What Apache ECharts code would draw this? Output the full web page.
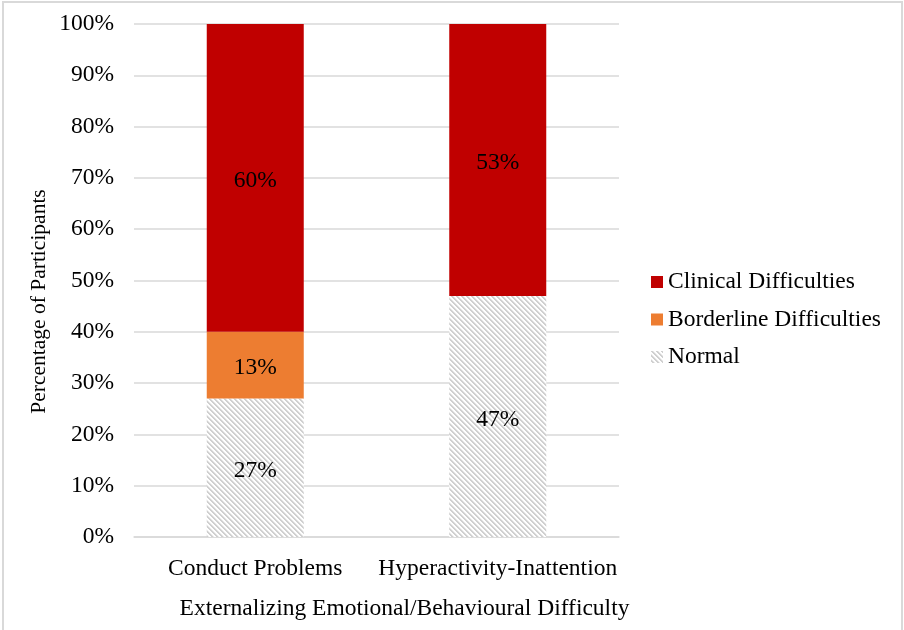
<!DOCTYPE html>
<html>
<head>
<meta charset="utf-8">
<script src="https://cdn.jsdelivr.net/npm/echarts@6/dist/echarts.min.js"></script>
<style>
  html, body { margin: 0; padding: 0; background: #fff; }
  #chart { width: 904px; height: 630px; }
</style>
</head>
<body>
<div id="chart"></div>
<script>
// Categories and stacked percentages
const categories = ['Conduct Problems', 'Hyperactivity-Inattention'];
const normalValues = [27, 47];
const borderlineValues = [13, 0];
const clinicalValues = [60, 53];
const yTicks = [0, 10, 20, 30, 40, 50, 60, 70, 80, 90, 100];

const FONT = '"Liberation Serif", "Times New Roman", serif';
const FS = 23.5;

// Diagonal hatch fill used for the "Normal" segment
function makeHatch() {
  const s = 5;
  const c = document.createElement('canvas');
  c.width = s; c.height = s;
  const ctx = c.getContext('2d');
  ctx.fillStyle = '#ffffff';
  ctx.fillRect(0, 0, s, s);
  for (let y = 0; y < s; y++) {
    for (let x = 0; x < s; x++) {
      const d = ((x - y) % s + s) % s;
      if (d < 2) { ctx.fillStyle = '#d0d0d0'; ctx.fillRect(x, y, 1, 1); }
      else if (d === 2) { ctx.fillStyle = '#ebebeb'; ctx.fillRect(x, y, 1, 1); }
    }
  }
  return { image: c, repeat: 'repeat' };
}
const hatch = makeHatch();

const labelStyle = {
  show: true,
  position: 'inside',
  offset: [0, 3],
  color: '#000',
  fontFamily: FONT,
  fontSize: FS,
  formatter: p => (p.value ? p.value + '%' : '')
};

const chart = echarts.init(document.getElementById('chart'), null, { renderer: 'canvas' });
chart.setOption({
  animation: false,
  backgroundColor: '#fff',
  graphic: [{
    type: 'rect',
    shape: { x: 3, y: 2, width: 899, height: 700 },
    style: { fill: 'none', stroke: '#d9d9d9', lineWidth: 2 },
    silent: true
  }],
  grid: { left: 134, right: 285, top: 24, bottom: 93, containLabel: false },
  legend: {
    orient: 'vertical',
    left: 646,
    top: 265,
    itemWidth: 12,
    itemHeight: 12,
    itemGap: 13.5,
    icon: 'rect',
    data: ['Clinical Difficulties', 'Borderline Difficulties', 'Normal'],
    textStyle: { fontFamily: FONT, fontSize: FS, lineHeight: 24, color: '#000' }
  },
  xAxis: {
    type: 'category',
    data: categories,
    name: 'Externalizing Emotional/Behavioural Difficulty',
    nameLocation: 'middle',
    nameGap: 60,
    nameTextStyle: { fontFamily: FONT, fontSize: FS, color: '#000', padding: [0, 0, 0, 56] },
    axisLine: { show: true, lineStyle: { color: '#d9d9d9', width: 1.5 } },
    axisTick: { show: false },
    axisLabel: { interval: 0, fontFamily: FONT, fontSize: FS, color: '#000', margin: 20 }
  },
  yAxis: {
    type: 'value',
    min: yTicks[0],
    max: yTicks[yTicks.length - 1],
    interval: 10,
    name: 'Percentage of Participants',
    nameLocation: 'middle',
    nameGap: 84,
    nameMoveOverlap: false,
    nameTextStyle: { fontFamily: FONT, fontSize: 21.5, color: '#000', padding: [0, 42, 0, 0] },
    axisLine: { show: false },
    axisTick: { show: false },
    splitLine: { lineStyle: { color: '#d9d9d9', width: 1.5 } },
    axisLabel: { fontFamily: FONT, fontSize: FS, color: '#000', margin: 20, formatter: '{value}%' }
  },
  series: [
    {
      name: 'Normal', type: 'bar', stack: 'total', barWidth: '40%',
      data: normalValues,
      itemStyle: { color: hatch },
      label: labelStyle
    },
    {
      name: 'Borderline Difficulties', type: 'bar', stack: 'total', barWidth: '40%',
      data: borderlineValues,
      itemStyle: { color: '#ed7d31' },
      label: labelStyle
    },
    {
      name: 'Clinical Difficulties', type: 'bar', stack: 'total', barWidth: '40%',
      data: clinicalValues,
      itemStyle: { color: '#c00000' },
      label: labelStyle
    }
  ]
});
</script>
</body>
</html>
